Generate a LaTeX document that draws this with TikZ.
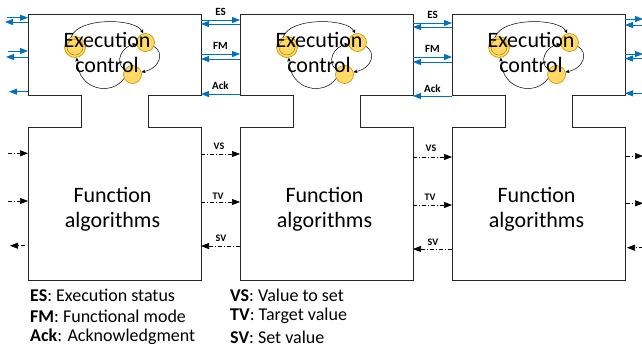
\documentclass[tikz,border=0pt]{standalone}
\usepackage{fontspec}
\setmainfont{Carlito}
\usetikzlibrary{arrows.meta,calc}
\definecolor{bluec}{RGB}{0,112,192}
\definecolor{yelc}{RGB}{255,217,102}
\definecolor{goldc}{RGB}{191,144,0}
\begin{document}
\begin{tikzpicture}[x=1pt,y=-1pt,
  box/.style={draw=black!85,line width=0.9pt,line join=miter},
  hold/.style={rectangle,minimum width=173pt,inner sep=0pt,outer sep=0pt},
  bl/.style={draw=bluec,line width=1pt,-{Triangle[length=8pt,width=6pt]}},
  da/.style={draw=black,line width=0.6pt,dash pattern=on 4pt off 2pt on 1pt off 2pt,-{Triangle[length=8pt,width=6pt]}},
  lab/.style={font=\fontsize{11}{12}\selectfont\bfseries,inner sep=0pt},
  labs/.style={font=\fontsize{10}{11}\selectfont\bfseries,inner sep=0pt},
  big/.style={font=\fontsize{22}{25}\selectfont,align=center,inner sep=0pt},
  st/.style={circle,fill=yelc,draw=goldc,line width=0.6pt,minimum size=18pt,inner sep=0pt},
  tr/.style={draw=black,line width=0.5pt,-{Stealth[length=4pt,width=3.5pt]}},
  leg/.style={font=\fontsize{18}{21}\selectfont,anchor=west,inner sep=0pt}]
\useasboundingbox (0,0) rectangle (642,349);

\foreach \i/\x in {1/28,2/240,3/452}{
  \node[hold,minimum height=81pt,anchor=north west] (ec\i) at (\x,14) {};
  \node[hold,minimum height=153pt,anchor=north west] (fa\i) at (\x,127) {};
  \draw[box] (ec\i.north west) -- (ec\i.north east) -- (ec\i.south east)
    -- ([xshift=-53pt]ec\i.south east) -- ([xshift=-53pt]fa\i.north east)
    -- (fa\i.north east) -- (fa\i.south east) -- (fa\i.south west)
    -- (fa\i.north west) -- ([xshift=53pt]fa\i.north west)
    -- ([xshift=53pt]ec\i.south west) -- (ec\i.south west) -- cycle;
  % states
  \node[st,minimum size=21pt] (sa\i) at (\x+47,47) {};
  \draw[goldc,line width=0.6pt] (sa\i.center) circle (8pt);
  \node[st] (sb\i) at (\x+117.5,42.5) {};
  \node[st] (sc\i) at (\x+104.5,74.5) {};
  \draw[tr] (sa\i.110) .. controls (\x+50,17) and (\x+108,18) .. (sb\i.105);
  \draw[tr] (sb\i.-25) .. controls (\x+136,52) and (\x+133,68) .. (sc\i.15);
  \draw[tr] (sc\i.150) .. controls (\x+86,62) and (\x+94,46) .. (sb\i.190);
  \draw[tr] (sc\i.205) .. controls (\x+84,96) and (\x+50,91) .. (sa\i.-80);
  \node[big] (t\i) at (\x+79,52.5) {Execution\\control};
  \node[big] (f\i) at (\x+84.5,209.5) {Function\\algorithms};
}

% gap 1-2 (top)
\draw[bl] ([yshift=-6pt]ec1.north east) -- ([yshift=-6pt]ec2.north west);
\draw[bl] ([yshift=-10pt]ec2.north west) -- ([yshift=-10pt]ec1.north east);
\draw[bl] ([yshift=-40pt]ec1.north east) -- ([yshift=-40pt]ec2.north west);
\draw[bl] ([yshift=-45pt]ec2.north west) -- ([yshift=-45pt]ec1.north east);
\draw[bl] ([yshift=-80pt]ec2.north west) -- ([yshift=-80pt]ec1.north east);
\node[lab] (es1) at (220.5,12) {ES};
\node[lab] (fm1) at (220.5,46) {FM};
\node[lab] (ack1) at (220.5,86) {Ack};
% gap 2-3 (top)
\draw[bl] ([yshift=-9pt]ec2.north east) -- ([yshift=-9pt]ec3.north west);
\draw[bl] ([yshift=-13pt]ec3.north west) -- ([yshift=-13pt]ec2.north east);
\draw[bl] ([yshift=-43pt]ec2.north east) -- ([yshift=-43pt]ec3.north west);
\draw[bl] ([yshift=-48pt]ec3.north west) -- ([yshift=-48pt]ec2.north east);
\draw[bl] ([yshift=-82pt]ec3.north west) -- ([yshift=-82pt]ec2.north east);
\node[lab] (es2) at (432.5,15) {ES};
\node[lab] (fm2) at (432.5,49) {FM};
\node[lab] (ack2) at (432.5,89) {Ack};
% outer left (top)
\coordinate (l1) at ([xshift=-21pt,yshift=-3.7pt]ec1.north west);
\coordinate (l2) at ([xshift=-23pt,yshift=-8pt]ec1.north west);
\coordinate (l3) at ([xshift=-20pt,yshift=-37pt]ec1.north west);
\coordinate (l4) at ([xshift=-22pt,yshift=-43pt]ec1.north west);
\coordinate (l5) at ([xshift=-19pt,yshift=-77.7pt]ec1.north west);
\draw[bl] (l1) -- ([yshift=-3.7pt]ec1.north west);
\draw[bl] ([yshift=-8pt]ec1.north west) -- (l2);
\draw[bl] (l3) -- ([yshift=-37pt]ec1.north west);
\draw[bl] ([yshift=-43pt]ec1.north west) -- (l4);
\draw[bl] ([yshift=-77.7pt]ec1.north west) -- (l5);
% outer right (top)
\coordinate (r1) at ([xshift=18pt,yshift=-5pt]ec3.north east);
\coordinate (r2) at ([xshift=18pt,yshift=-11pt]ec3.north east);
\coordinate (r3) at ([xshift=18pt,yshift=-40pt]ec3.north east);
\coordinate (r4) at ([xshift=18pt,yshift=-44.5pt]ec3.north east);
\coordinate (r5) at ([xshift=18pt,yshift=-79.3pt]ec3.north east);
\draw[bl] ([yshift=-5pt]ec3.north east) -- (r1);
\draw[bl] (r2) -- ([yshift=-11pt]ec3.north east);
\draw[bl] ([yshift=-40pt]ec3.north east) -- (r3);
\draw[bl] (r4) -- ([yshift=-44.5pt]ec3.north east);
\draw[bl] (r5) -- ([yshift=-79.3pt]ec3.north east);

% gap 1-2 (bottom)
\draw[da] ([yshift=-27pt]fa1.north east) -- ([yshift=-27pt]fa2.north west);
\draw[da] ([yshift=-75pt]fa1.north east) -- ([yshift=-75pt]fa2.north west);
\draw[da] ([yshift=-119pt]fa2.north west) -- ([yshift=-119pt]fa1.north east);
\node[labs] (vs1) at (219,146) {VS};
\node[labs] (tv1) at (218,196) {TV};
\node[labs] (sv1) at (221,238) {SV};
% gap 2-3 (bottom)
\draw[da] ([yshift=-30pt]fa2.north east) -- ([yshift=-30pt]fa3.north west);
\draw[da] ([yshift=-78pt]fa2.north east) -- ([yshift=-78pt]fa3.north west);
\draw[da] ([yshift=-122pt]fa3.north west) -- ([yshift=-122pt]fa2.north east);
\node[labs] (vs2) at (431,148) {VS};
\node[labs] (tv2) at (430,197) {TV};
\node[labs] (sv2) at (433,242) {SV};
% outer left (bottom)
\coordinate (bl1) at ([xshift=-20pt,yshift=-26.3pt]fa1.north west);
\coordinate (bl2) at ([xshift=-20pt,yshift=-74pt]fa1.north west);
\coordinate (bl3) at ([xshift=-18pt,yshift=-118.7pt]fa1.north west);
\draw[da] (bl1) -- ([yshift=-26.3pt]fa1.north west);
\draw[da] (bl2) -- ([yshift=-74pt]fa1.north west);
\draw[da] ([xshift=-3pt,yshift=-118.7pt]fa1.north west) -- (bl3);
% outer right (bottom)
\coordinate (br1) at ([xshift=18pt,yshift=-29pt]fa3.north east);
\coordinate (br2) at ([xshift=18pt,yshift=-76.3pt]fa3.north east);
\coordinate (br3) at ([xshift=18pt,yshift=-120.7pt]fa3.north east);
\draw[da] ([xshift=1pt,yshift=-29pt]fa3.north east) -- (br1);
\draw[da] ([xshift=1pt,yshift=-76.3pt]fa3.north east) -- (br2);
\draw[da] (br3) -- ([xshift=2pt,yshift=-120.7pt]fa3.north east);

% legend
\node[leg] (g1) at (30,295) {\textbf{ES}: Execution status};
\node[leg] (g2) at (30,316) {\textbf{FM}: Functional mode};
\node[leg] (g3) at (30,337) {\textbf{Ack}: Acknowledgment};
\node[leg] (g4) at (230,295) {\textbf{VS}: Value to set};
\node[leg] (g5) at (230,316) {\textbf{TV}: Target value};
\node[leg] (g6) at (230,337) {\textbf{SV}: Set value};
\end{tikzpicture}
\end{document}
